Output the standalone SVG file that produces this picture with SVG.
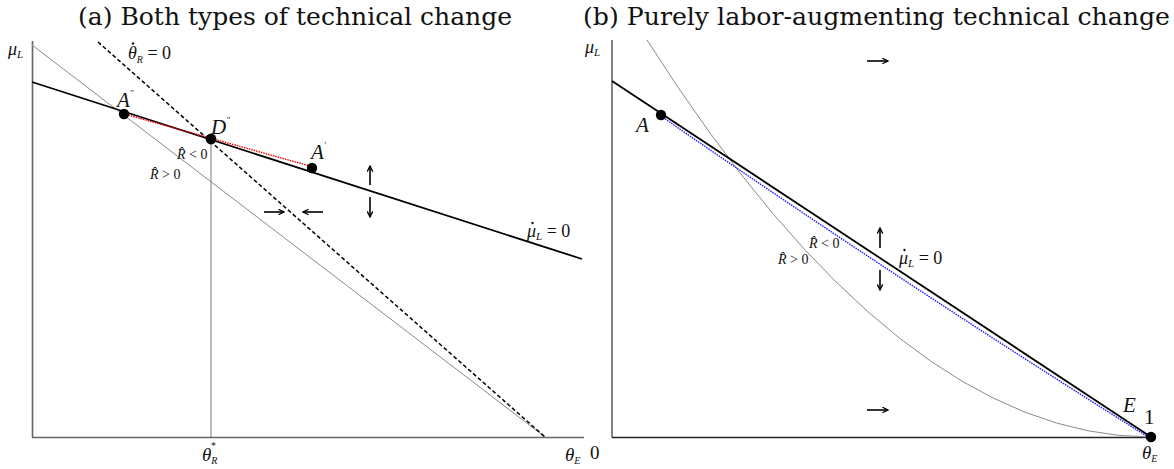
<svg xmlns="http://www.w3.org/2000/svg" width="1174" height="469" viewBox="0 0 1174 469">
<defs>
<marker id="ah" viewBox="0 0 10 10" refX="9" refY="5" markerWidth="7" markerHeight="7" orient="auto" markerUnits="userSpaceOnUse">
<path d="M1,1 L9,5 L1,9" fill="none" stroke="#000" stroke-width="1.8"/>
</marker>
<style>
.title{font-family:"DejaVu Serif","Liberation Serif",serif;font-size:24px;fill:#111}
.t{font-family:"Liberation Serif","DejaVu Serif",serif;font-style:italic;fill:#111}
.n{font-family:"Liberation Serif","DejaVu Serif",serif;font-style:normal;fill:#111}
.axis{stroke:#666;stroke-width:1.6;fill:none}
.curve{stroke:#000;stroke-width:1.8;fill:none}
.gray{stroke:#8a8a8a;stroke-width:1;fill:none}
.dash{stroke:#000;stroke-width:1.5;stroke-dasharray:4 2.5;fill:none}
.arr{stroke:#000;stroke-width:1.6;fill:none;marker-end:url(#ah)}
.dot{fill:#000}
.acc{fill:#111}
</style>
</defs>
<rect width="1174" height="469" fill="#fff"/>

<text class="title" x="78" y="25" textLength="434" lengthAdjust="spacingAndGlyphs">(a) Both types of technical change</text>
<text class="title" x="583" y="25" textLength="587" lengthAdjust="spacingAndGlyphs">(b) Purely labor-augmenting technical change</text>

<!-- Panel (a) -->
<g id="panel-a">
  <g id="a-axes">
    <line class="axis" x1="32.5" y1="41" x2="32.5" y2="437.5"/>
    <line class="axis" x1="32" y1="437.5" x2="584" y2="437.5"/>
    <line x1="211" y1="139" x2="211" y2="437" stroke="#555" stroke-width="0.8"/>
  </g>
  <g id="a-connectors">
    <line class="gray" x1="32" y1="45" x2="545" y2="437"/>
    <line class="dash" x1="98" y1="42" x2="545" y2="437"/>
    <line class="curve" x1="32" y1="82" x2="582" y2="259"/>
    <line x1="126" y1="114.5" x2="310" y2="166" stroke="#e00" stroke-width="1.4" stroke-dasharray="1.5 1"/>
    <line class="arr" x1="264" y1="212" x2="284" y2="212"/>
    <line class="arr" x1="323" y1="212" x2="303" y2="212"/>
    <line class="arr" x1="370" y1="185" x2="370" y2="166"/>
    <line class="arr" x1="370" y1="197" x2="370" y2="217"/>
  </g>
  <g id="node-A2"><circle class="dot" cx="124" cy="114" r="5.2"/></g>
  <g id="node-D2"><circle class="dot" cx="211" cy="139" r="5.4"/></g>
  <g id="node-A1"><circle class="dot" cx="312" cy="168" r="5.2"/></g>
  <g id="a-labels">
    <text class="t" x="8" y="55" font-size="18">μ<tspan font-size="11" dy="3">L</tspan></text>
    <text class="t" x="128" y="59" font-size="18">θ<tspan font-size="10" dy="4">R</tspan><tspan class="n" dy="-4"> = 0</tspan></text>
    <circle class="acc" cx="133" cy="43.5" r="1.2"/>
    <text class="t" x="117" y="107" font-size="21">A<tspan font-size="9" dy="-11">"</tspan></text>
    <text class="t" x="211" y="134" font-size="21">D<tspan font-size="9" dy="-11">"</tspan></text>
    <text class="t" x="311" y="159" font-size="21">A<tspan font-size="9" dy="-11">'</tspan></text>
    <text class="t" x="177" y="159" font-size="14">R̂<tspan class="n"> &lt; 0</tspan></text>
    <text class="t" x="150" y="179" font-size="14">R̂<tspan class="n"> &gt; 0</tspan></text>
    <text class="t" x="527" y="237" font-size="18">μ<tspan font-size="11" dy="3">L</tspan><tspan class="n" dy="-3"> = 0</tspan></text>
    <circle class="acc" cx="532.5" cy="223" r="1.2"/>
    <text class="t" x="202" y="461" font-size="19">θ<tspan font-size="10" dy="3">R</tspan><tspan font-size="10" dx="-7" dy="-15">*</tspan></text>
    <text class="t" x="565" y="461" font-size="19">θ<tspan font-size="10" dy="3">E</tspan></text>
  </g>
</g>

<!-- Panel (b) -->
<g id="panel-b">
  <g id="b-axes">
    <line class="axis" x1="612" y1="40" x2="612" y2="437.5"/>
    <line x1="612" y1="437.5" x2="1151" y2="437.5" stroke="#222" stroke-width="1.4"/>
  </g>
  <g id="b-connectors">
    <path class="gray" d="M647,40 Q899,437 1151,437"/>
    <line class="curve" x1="612" y1="81" x2="1151" y2="437"/>
    <path d="M663,117.5 Q904,284 1149,437.5" fill="none" stroke="#1a1aff" stroke-width="1.4" stroke-dasharray="1.5 1"/>
    <line class="arr" x1="867" y1="61" x2="888" y2="61"/>
    <line class="arr" x1="867" y1="410" x2="888" y2="410"/>
    <line class="arr" x1="880" y1="248" x2="880" y2="228"/>
    <line class="arr" x1="880" y1="270" x2="880" y2="290"/>
  </g>
  <g id="node-A"><circle class="dot" cx="661" cy="115" r="5.2"/></g>
  <g id="node-E"><circle class="dot" cx="1151" cy="437" r="5.2"/></g>
  <g id="b-labels">
    <text class="t" x="585" y="53" font-size="18">μ<tspan font-size="11" dy="3">L</tspan></text>
    <text class="t" x="636" y="132" font-size="21">A</text>
    <text class="t" x="809" y="248" font-size="14">R̂<tspan class="n"> &lt; 0</tspan></text>
    <text class="t" x="778" y="264" font-size="14">R̂<tspan class="n"> &gt; 0</tspan></text>
    <text class="t" x="899" y="264" font-size="18">μ<tspan font-size="11" dy="3">L</tspan><tspan class="n" dy="-3"> = 0</tspan></text>
    <circle class="acc" cx="904.5" cy="250" r="1.2"/>
    <text class="t" x="1123" y="412" font-size="21">E</text>
    <text class="n" x="1144" y="424" font-size="21">1</text>
    <text class="n" x="590" y="459" font-size="19">0</text>
    <text class="t" x="1142" y="459" font-size="19">θ<tspan font-size="10" dy="3">E</tspan></text>
  </g>
</g>
</svg>
